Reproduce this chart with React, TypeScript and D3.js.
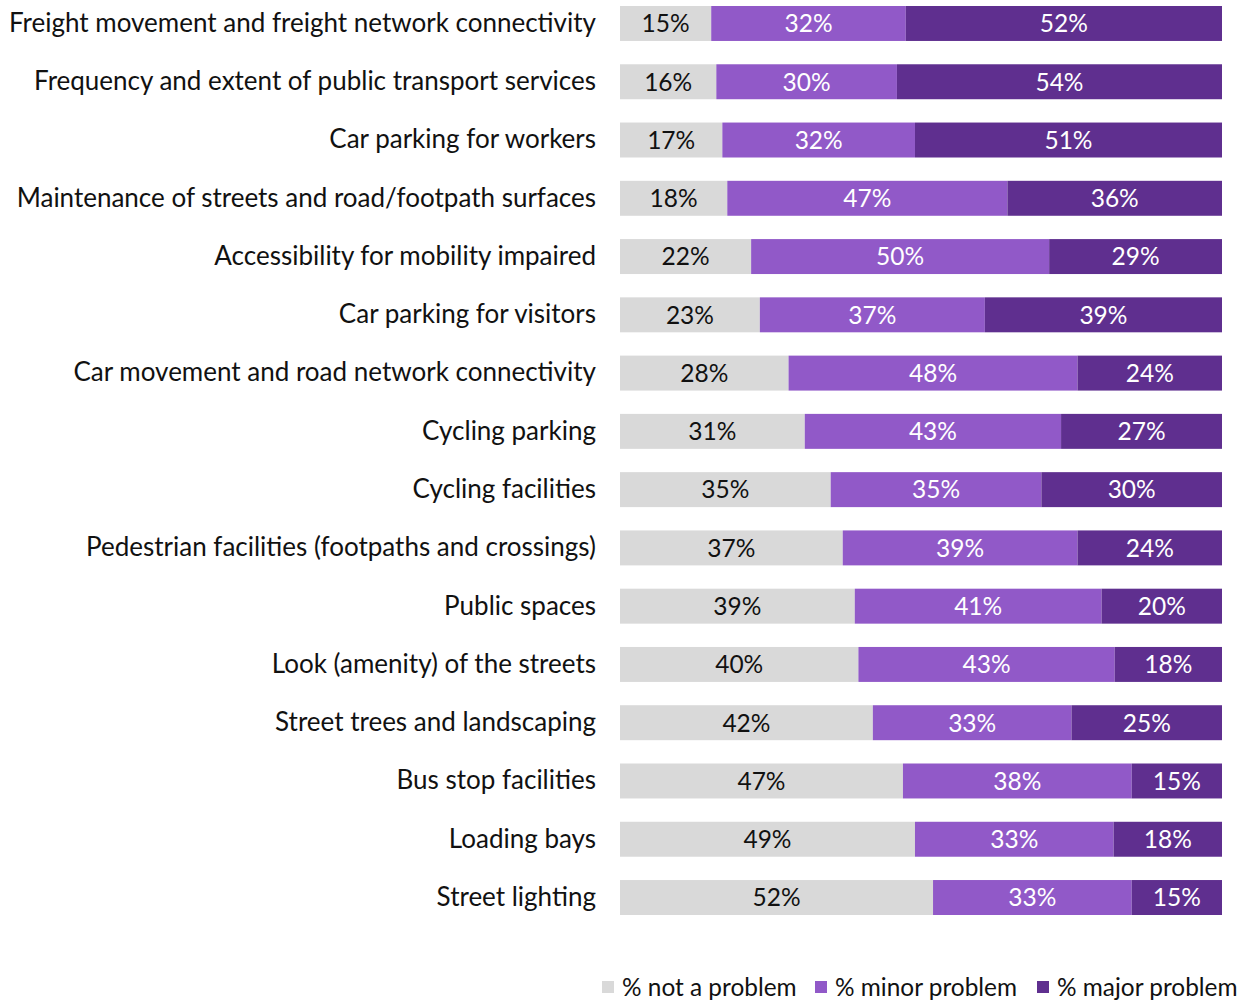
import React, { useEffect, useRef } from 'react';
import * as d3 from 'd3';

const categories = [
  'Freight movement and freight network connectivity',
  'Frequency and extent of public transport services',
  'Car parking for workers',
  'Maintenance of streets and road/footpath surfaces',
  'Accessibility for mobility impaired',
  'Car parking for visitors',
  'Car movement and road network connectivity',
  'Cycling parking',
  'Cycling facilities',
  'Pedestrian facilities (footpaths and crossings)',
  'Public spaces',
  'Look (amenity) of the streets',
  'Street trees and landscaping',
  'Bus stop facilities',
  'Loading bays',
  'Street lighting',
];

const notAProblem = [15, 16, 17, 18, 22, 23, 28, 31, 35, 37, 39, 40, 42, 47, 49, 52];
const minorProblem = [32, 30, 32, 47, 50, 37, 48, 43, 35, 39, 41, 43, 33, 38, 33, 33];
const majorProblem = [52, 54, 51, 36, 29, 39, 24, 27, 30, 24, 20, 18, 25, 15, 18, 15];

const seriesNames = ['% not a problem', '% minor problem', '% major problem'];
const seriesColors = ['#d9d9d9', '#9159c8', '#5f2f8f'];
const labelColors = ['#111111', '#ffffff', '#ffffff'];

const FONT = 'Lato, "Open Sans", sans-serif';

const App = () => {
  const ref = useRef<SVGSVGElement>(null);

  useEffect(() => {
    const svg = d3.select(ref.current);
    svg.selectAll('*').remove();

    const rows = categories.map((name, i) => ({
      name,
      values: [notAProblem[i], minorProblem[i], majorProblem[i]],
    }));

    const x = d3.scaleLinear().domain([0, 1]).range([620, 1222]);
    const y = d3.scaleBand()
      .domain(categories)
      .range([6, 915])
      .paddingInner(0.4)
      .paddingOuter(0);

    const g = svg.append('g');

    rows.forEach((row) => {
      const total = d3.sum(row.values);
      let acc = 0;
      row.values.forEach((v, k) => {
        const x0 = x(acc / total);
        const x1 = x((acc + v) / total);
        acc += v;
        g.append('rect')
          .attr('x', x0)
          .attr('y', y(row.name)!)
          .attr('width', x1 - x0)
          .attr('height', y.bandwidth())
          .attr('fill', seriesColors[k]);
        g.append('text')
          .attr('x', (x0 + x1) / 2)
          .attr('y', y(row.name)! + y.bandwidth() / 2)
          .attr('dy', '0.36em')
          .attr('text-anchor', 'middle')
          .attr('font-family', FONT)
          .attr('font-size', 24.5)
          .attr('fill', labelColors[k])
          .text(`${v}%`);
      });

      // category label
      g.append('text')
        .attr('x', 596)
        .attr('y', y(row.name)! + y.bandwidth() / 2 - 1)
        .attr('dy', '0.36em')
        .attr('text-anchor', 'end')
        .attr('font-family', FONT)
        .attr('font-size', 26)
        .attr('fill', '#111111')
        .text(row.name);
    });

    // legend
    const legendX = [602, 815, 1037];
    const legend = svg.append('g');
    seriesNames.forEach((name, k) => {
      legend.append('rect')
        .attr('x', legendX[k])
        .attr('y', 981)
        .attr('width', 12)
        .attr('height', 12)
        .attr('fill', seriesColors[k]);
      legend.append('text')
        .attr('x', legendX[k] + 20)
        .attr('y', 987)
        .attr('dy', '0.36em')
        .attr('font-family', FONT)
        .attr('font-size', 24.4)
        .attr('fill', '#111111')
        .text(name);
    });
  }, []);

  return (
    <>
      <style>{'body{margin:0}'}</style>
      <svg ref={ref} width={1244} height={1000} style={{ display: 'block' }} />
    </>
  );
};

export default App;
